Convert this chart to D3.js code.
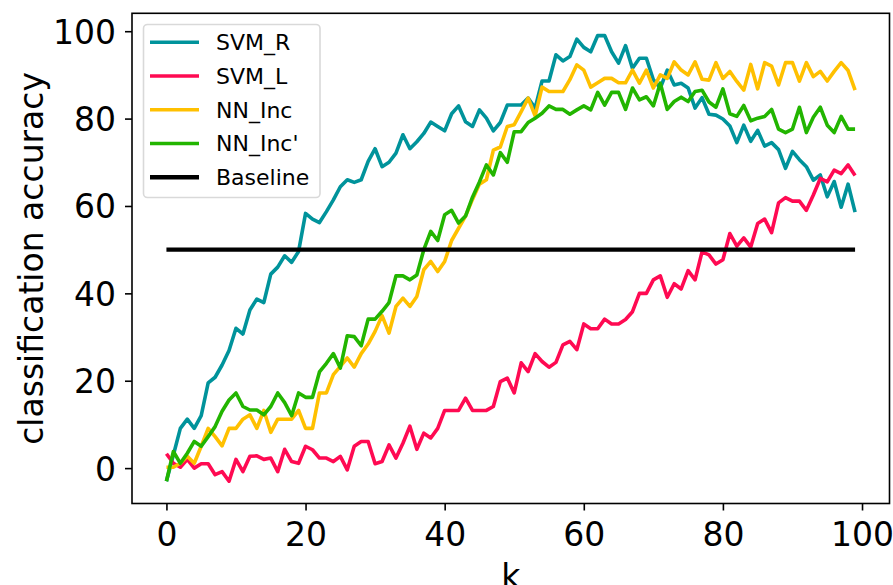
<!DOCTYPE html>
<html>
<head>
<meta charset="utf-8">
<script src="https://cdn.jsdelivr.net/npm/d3@7"></script>
<style>
  html, body { margin: 0; padding: 0; background: #ffffff; }
  svg { display: block; }
  text { font-family: "DejaVu Sans", sans-serif; fill: #000; }
</style>
</head>
<body>
<svg id="chart" width="893" height="585"></svg>
<script>
// ---------- data ----------
const kValues = d3.range(0, 100);
const xTicks = [0, 20, 40, 60, 80, 100];
const yTicks = [0, 20, 40, 60, 80, 100];
const seriesNames = ["SVM_R", "SVM_L", "NN_Inc", "NN_Inc'", "Baseline"];
const seriesColors = ["#00939b", "#ff0a52", "#ffc000", "#22b500", "#000000"];

const svmR = [-3, 3, 9.1, 11.2, 9.1, 12.0, 19.5, 20.8, 23.6, 26.9,
  32.0, 30.7, 36.2, 38.7, 37.9, 44.4, 46.0, 48.6, 47.1, 49.6,
  58.3, 57.0, 56.2, 58.7, 61.4, 64.4, 66.0, 65.4, 66.0, 70.2,
  73.1, 69.0, 70.0, 72.1, 76.3, 73.1, 74.7, 76.6, 79.2, 78.2,
  77.2, 81.1, 82.9, 79.3, 78.2, 82.0, 80.1, 77.2, 79.1, 83.1,
  83.1, 83.1, 84.7, 82.4, 88.6, 88.6, 94.6, 93.2, 94.2, 98.2,
  96.3, 95.3, 99.0, 99.0, 95.3, 92.7, 96.7, 91.5, 93.8, 93.8,
  88.9, 87.0, 91.1, 87.7, 88.1, 87.0, 82.4, 84.8, 81.0, 80.8,
  79.9, 78.3, 74.5, 78.5, 74.8, 77.3, 73.7, 74.5, 72.9, 68.6,
  72.5, 70.6, 69.0, 65.9, 67.1, 62.1, 65.6, 59.7, 65.0, 58.6];

const svmL = [3.3, 1.1, 0.2, 2.0, 0, 1.0, 1.0, -1.5, -0.8, -3.0,
  2.0, -0.8, 2.7, 2.8, 2.0, 2.3, -0.8, 4.3, 1.5, 1.1,
  5.0, 4.2, 2.3, 2.3, 1.5, 2.7, -0.4, 5.0, 6.1, 6.1,
  1.0, 1.5, 5.3, 2.3, 5.7, 9.6, 4.3, 8.0, 6.9, 9.1,
  13.2, 13.2, 13.2, 16.0, 13.2, 13.2, 13.2, 14.1, 19.8, 20.6,
  17.2, 24.1, 22.1, 26.2, 24.4, 23.1, 24.2, 28.2, 29.0, 27.1,
  33.0, 31.9, 31.9, 34.1, 33.0, 33.0, 34.0, 35.8, 40.0, 40.0,
  43.1, 44.0, 39.1, 42.2, 41.0, 45.2, 43.1, 49.5, 48.8, 46.7,
  47.7, 53.7, 50.8, 52.7, 50.6, 56.0, 57.0, 53.9, 60.7, 61.9,
  61.1, 61.1, 59.0, 62.5, 66.3, 65.5, 68.2, 67.4, 69.4, 67.0];

const nnInc = [0.2, 0.2, 1.1, 2.7, 1.1, 5.0, 9.1, 7.2, 5.1, 9.1,
  9.1, 11.2, 12.2, 9.1, 13.2, 8.2, 11.2, 11.2, 11.2, 13.2,
  9.1, 9.1, 17.2, 17.2, 21.4, 23.3, 25.2, 23.1, 26.2, 28.4,
  31.3, 34.9, 30.9, 37.0, 38.9, 37.0, 39.3, 45.4, 47.3, 45.0,
  47.3, 52.1, 54.9, 57.7, 61.5, 65.0, 66.0, 72.8, 73.5, 78.2,
  78.6, 81.6, 84.7, 80.6, 87.2, 86.2, 86.2, 86.2, 88.9, 92.3,
  91.1, 87.2, 88.2, 89.2, 89.2, 88.2, 88.2, 91.1, 88.1, 91.1,
  87.0, 90.0, 89.2, 93.0, 91.1, 90.0, 93.0, 89.0, 88.8, 92.8,
  89.2, 90.8, 88.5, 86.5, 92.4, 86.8, 92.8, 92.0, 87.7, 92.8,
  92.8, 88.6, 92.8, 89.6, 90.8, 88.6, 90.8, 92.8, 91.0, 86.5];

const nnIncP = [-3.0, 3.8, 1.1, 3.4, 6.1, 5.0, 7.2, 9.5, 13.0, 15.6,
  17.2, 14.1, 13.3, 13.3, 12.2, 14.1, 17.2, 15.0, 12.0, 17.2,
  16.2, 16.2, 22.0, 24.0, 26.2, 22.9, 30.3, 30.1, 28.0, 34.1,
  34.1, 35.9, 37.9, 44.0, 44.0, 43.1, 44.2, 50.0, 54.2, 52.1,
  58.0, 59.0, 56.1, 57.7, 62.0, 65.5, 69.4, 67.1, 72.2, 70.0,
  77.0, 77.0, 79.1, 80.1, 81.2, 82.9, 82.1, 82.1, 81.0, 82.0,
  82.9, 82.0, 86.0, 83.1, 86.0, 86.0, 82.1, 87.0, 84.3, 85.0,
  82.9, 88.1, 82.1, 83.9, 84.9, 83.9, 86.2, 86.5, 83.8, 82.6,
  86.8, 81.1, 80.5, 83.0, 79.5, 80.1, 80.5, 82.1, 77.6, 76.8,
  77.6, 82.6, 76.8, 80.3, 82.6, 78.5, 76.8, 80.5, 77.6, 77.6];

const baseline = kValues.map(() => 50);

const seriesValues = [svmR, svmL, nnInc, nnIncP, baseline];

// ---------- layout ----------
const svg = d3.select("#chart");
svg.append("rect").attr("width", 893).attr("height", 585).attr("fill", "#fff");

const plot = { left: 132, right: 889.5, top: 13.3, bottom: 503.5 };
const x = d3.scaleLinear().domain([-4.95, 103.95]).range([plot.left, plot.right]);
const y = d3.scaleLinear().domain([-8.1, 104.1]).range([plot.bottom, plot.top]);

// lines
const line = d3.line().x((d, i) => x(kValues[i])).y(d => y(d));
seriesValues.forEach((vals, si) => {
  svg.append("path")
    .datum(vals)
    .attr("fill", "none")
    .attr("stroke", seriesColors[si])
    .attr("stroke-width", si === 4 ? 4.4 : 3.6)
    .attr("stroke-linejoin", "round")
    .attr("stroke-linecap", "butt")
    .attr("d", line);
});

// axes
const xAxis = d3.axisBottom(x).tickValues(xTicks).tickSize(7).tickPadding(12).tickFormat(d3.format("d"));
const gx = svg.append("g").attr("transform", `translate(0,${plot.bottom})`).call(xAxis);
gx.select(".domain").remove();
gx.selectAll("line").attr("stroke", "#000").attr("stroke-width", 1.6);
gx.selectAll("text").attr("font-size", 33).attr("font-family", "DejaVu Sans");

const yAxis = d3.axisLeft(y).tickValues(yTicks).tickSize(7).tickPadding(9).tickFormat(d3.format("d"));
const gy = svg.append("g").attr("transform", `translate(${plot.left},0)`).call(yAxis);
gy.select(".domain").remove();
gy.selectAll("line").attr("stroke", "#000").attr("stroke-width", 1.6);
gy.selectAll("text").attr("font-size", 33).attr("font-family", "DejaVu Sans").attr("dy", "0.36em");

// frame
svg.append("rect")
  .attr("x", plot.left).attr("y", plot.top)
  .attr("width", plot.right - plot.left).attr("height", plot.bottom - plot.top)
  .attr("fill", "none").attr("stroke", "#000").attr("stroke-width", 1.6);

// axis labels
svg.append("text")
  .attr("x", (plot.left + plot.right) / 2).attr("y", 588)
  .attr("text-anchor", "middle").attr("font-size", 33)
  .text("k");
svg.append("text")
  .attr("transform", `translate(43,${(plot.top + plot.bottom) / 2}) rotate(-90)`)
  .attr("text-anchor", "middle").attr("font-size", 33)
  .text("classification accuracy");

// legend
const lg = svg.append("g");
lg.append("rect")
  .attr("x", 143.5).attr("y", 24.5).attr("width", 176.5).attr("height", 173)
  .attr("rx", 4).attr("ry", 4)
  .attr("fill", "#fff").attr("fill-opacity", 0.8)
  .attr("stroke", "#d9d9d9").attr("stroke-width", 1.6);
seriesNames.forEach((name, i) => {
  const yy = 42.3 + i * 33.75;
  lg.append("line")
    .attr("x1", 150).attr("x2", 199).attr("y1", yy).attr("y2", yy)
    .attr("stroke", seriesColors[i]).attr("stroke-width", i === 4 ? 4.4 : 3.6);
  lg.append("text")
    .attr("x", 216).attr("y", yy).attr("dy", "0.36em")
    .attr("font-size", 22)
    .text(name);
});
</script>
</body>
</html>
